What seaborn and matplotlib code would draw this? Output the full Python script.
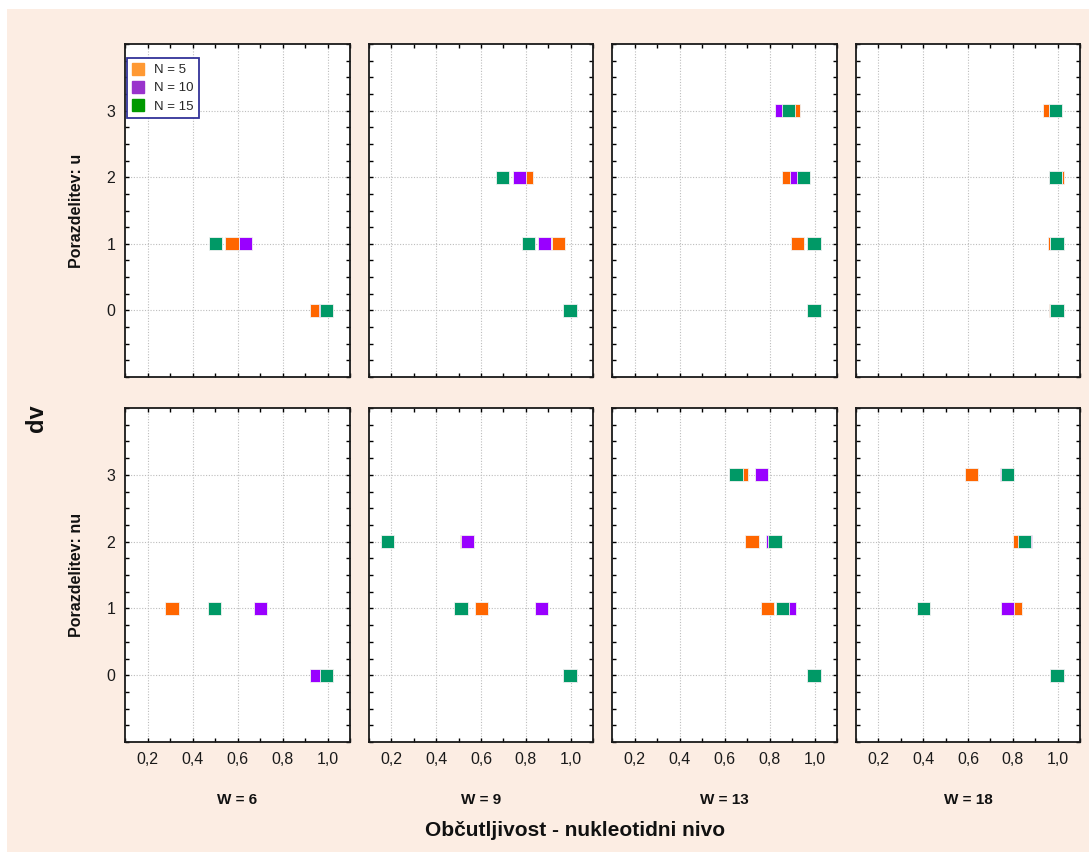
import numpy as np
import pandas as pd
import matplotlib
matplotlib.use("Agg")
import matplotlib.pyplot as plt
import seaborn as sns
from matplotlib.ticker import MultipleLocator, FixedLocator, FuncFormatter
from matplotlib.lines import Line2D
from matplotlib.patches import Rectangle

# ---------------- data ----------------
W_values = [6, 9, 13, 18]
distributions = ["u", "nu"]
N_groups = ["N = 5", "N = 10", "N = 15"]
dv_levels = [0, 1, 2, 3]
nan = np.nan

# sensitivity (x) for dv = 0, 1, 2, 3 ; distribution "u"
u_w6_n5 = [0.951, 0.576, nan, nan]
u_w6_n10 = [0.991, 0.637, nan, nan]
u_w6_n15 = [0.997, 0.503, nan, nan]
u_w9_n5 = [1.0, 0.945, 0.804, nan]
u_w9_n10 = [1.0, 0.884, 0.771, nan]
u_w9_n15 = [0.997, 0.811, 0.696, nan]
u_w13_n5 = [1.0, 0.925, 0.885, 0.904]
u_w13_n10 = [1.0, 0.998, 0.919, 0.852]
u_w13_n15 = [0.998, 0.998, 0.951, 0.885]
u_w18_n5 = [0.990, 0.985, 0.997, 0.964]
u_w18_n10 = [0.997, 0.997, 0.991, 0.990]
u_w18_n15 = [0.997, 0.997, 0.991, 0.990]

# distribution "nu"
nu_w6_n5 = [0.997, 0.309, nan, nan]
nu_w6_n10 = [0.951, 0.702, nan, nan]
nu_w6_n15 = [0.997, 0.497, nan, nan]
nu_w9_n5 = [0.997, 0.602, 0.538, nan]
nu_w9_n10 = [0.997, 0.871, 0.541, nan]
nu_w9_n15 = [0.997, 0.510, 0.184, nan]
nu_w13_n5 = [0.998, 0.791, 0.722, 0.676]
nu_w13_n10 = [0.998, 0.890, 0.812, 0.764]
nu_w13_n15 = [0.998, 0.858, 0.824, 0.651]
nu_w18_n5 = [0.997, 0.810, 0.830, 0.616]
nu_w18_n10 = [0.997, 0.776, 0.857, 0.772]
nu_w18_n15 = [0.997, 0.401, 0.851, 0.776]

series = {
    ("u", 6): [u_w6_n5, u_w6_n10, u_w6_n15],
    ("u", 9): [u_w9_n5, u_w9_n10, u_w9_n15],
    ("u", 13): [u_w13_n5, u_w13_n10, u_w13_n15],
    ("u", 18): [u_w18_n5, u_w18_n10, u_w18_n15],
    ("nu", 6): [nu_w6_n5, nu_w6_n10, nu_w6_n15],
    ("nu", 9): [nu_w9_n5, nu_w9_n10, nu_w9_n15],
    ("nu", 13): [nu_w13_n5, nu_w13_n10, nu_w13_n15],
    ("nu", 18): [nu_w18_n5, nu_w18_n10, nu_w18_n15],
}

rows = []
for (dist, w), lists in series.items():
    for n_lab, vals in zip(N_groups, lists):
        for dv, x in zip(dv_levels, vals):
            if not np.isnan(x):
                rows.append(dict(dist=dist, W=w, N=n_lab, dv=dv, sens=x))
df = pd.DataFrame(rows)

# ---------------- style ----------------
sns.set_style("ticks")
plt.rcParams["font.family"] = ["Liberation Sans", "DejaVu Sans"]

plot_palette = {"N = 5": "#FF6600", "N = 10": "#9900FF", "N = 15": "#009966"}
legend_colors = ["#FF9933", "#9933CC", "#009900"]

FW, FH = 1089, 852
fig = plt.figure(figsize=(FW / 100, FH / 100), dpi=100, facecolor="white")
fig.patches.append(Rectangle((7 / FW, 0), 1, 1 - 9 / FH, transform=fig.transFigure,
                             facecolor="#FCEDE3", edgecolor="none", zorder=-10))

col_x = [(125, 350), (369, 593), (612, 837), (856, 1080)]
row_y = [(44, 377), (408, 742)]

comma = FuncFormatter(lambda v, p: f"{v:.1f}".replace(".", ","))

for r, dist in enumerate(distributions):
    for c, w in enumerate(W_values):
        x0, x1 = col_x[c]
        y0, y1 = row_y[r]
        ax = fig.add_axes([x0 / FW, 1 - y1 / FH, (x1 - x0) / FW, (y1 - y0) / FH])
        ax.set_facecolor("white")
        sub = df[(df.dist == dist) & (df.W == w)].copy()
        sub["order"] = sub["N"].map({k: i for i, k in enumerate(N_groups)})
        sub = sub.sort_values("order", kind="stable")
        sns.scatterplot(data=sub, x="sens", y="dv", hue="N", hue_order=N_groups,
                        palette=plot_palette, marker="s", s=92, linewidth=0.6,
                        edgecolor="#f2f2f2", legend=False, ax=ax, zorder=3)
        ax.set_xlim(0.1, 1.1)
        ax.set_ylim(-1, 4)
        ax.xaxis.set_major_locator(FixedLocator([0.2, 0.4, 0.6, 0.8, 1.0]))
        ax.xaxis.set_minor_locator(MultipleLocator(0.1))
        ax.yaxis.set_major_locator(FixedLocator([0, 1, 2, 3]))
        ax.yaxis.set_minor_locator(MultipleLocator(0.25))
        ax.xaxis.set_major_formatter(comma)
        ax.grid(True, which="major", linestyle=(0, (1, 1.5)), color="#bdbdbd", linewidth=0.8, zorder=0)
        ax.set_axisbelow(True)
        ax.tick_params(which="both", direction="in", top=True, right=True,
                       length=3, width=1, color="black", labelsize=11.5, labelcolor="#1a1a1a")
        ax.tick_params(axis="x", pad=7)
        ax.tick_params(axis="y", pad=7)
        for s in ax.spines.values():
            s.set_linewidth(1.3)
            s.set_color("#1a1a1a")
        ax.set_xlabel("")
        ax.set_ylabel("")
        if r == 0:
            ax.tick_params(axis="x", labelbottom=False)
        if c != 0:
            ax.tick_params(axis="y", labelleft=False)
        if r == 0 and c == 0:
            handles = [Line2D([], [], marker="s", linestyle="none", markersize=9,
                              markerfacecolor=col, markeredgecolor=col) for col in legend_colors]
            leg = ax.legend(handles, N_groups, loc="upper left",
                            bbox_to_anchor=(0.008, 0.958), borderaxespad=0,
                            fontsize=9.5, frameon=True, fancybox=False,
                            handlelength=0.8, handletextpad=0.8, labelspacing=0.45,
                            borderpad=0.45)
            leg.get_frame().set_edgecolor("#333399")
            leg.get_frame().set_linewidth(1.3)
            leg.get_frame().set_facecolor("white")
            leg.get_frame().set_alpha(1)
        if r == 1:
            fig.text(((x0 + x1) / 2) / FW, 1 - 800 / FH, f"W = {w}", ha="center", va="center",
                     fontsize=11, fontweight="bold", color="#111111")

    yc = (row_y[r][0] + row_y[r][1]) / 2
    fig.text(76 / FW, 1 - yc / FH, f"Porazdelitev: {dist}", rotation=90, ha="center",
             va="center", fontsize=11.5, fontweight="bold", color="#111111")

fig.text(37 / FW, 1 - 418 / FH, "dv", rotation=90, ha="center", va="center",
         fontsize=17, fontweight="bold", color="#111111")
fig.text(575 / FW, 1 - 830 / FH, "Občutljivost - nukleotidni nivo", ha="center", va="center",
         fontsize=15, fontweight="bold", color="#111111")

fig.savefig("out.png", dpi=100, facecolor=fig.get_facecolor())
